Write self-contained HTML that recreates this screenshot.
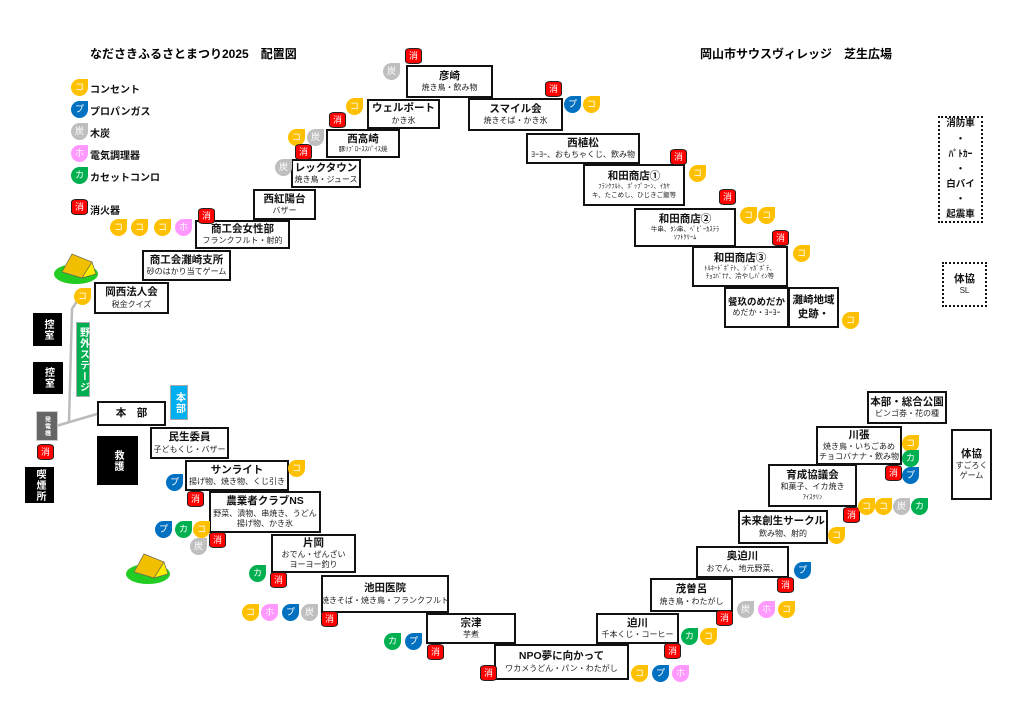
<!DOCTYPE html>
<html><head><meta charset="utf-8"><style>
body{margin:0;width:1024px;height:724px;position:relative;background:#fff;font-family:"Liberation Sans","Noto Sans CJK JP",sans-serif;overflow:hidden}
.b{position:absolute;border:2px solid #111;background:#fff;box-sizing:border-box;text-align:center;display:flex;flex-direction:column;justify-content:center;align-items:center;line-height:1.25}
.b .t{font-size:10.5px;font-weight:bold;color:#111;white-space:nowrap}
.b .s{font-size:8px;color:#222;white-space:nowrap}
.i{position:absolute;width:17px;height:17px;border-radius:50% 0 50% 50%;color:#fff;font-size:9px;text-align:center;line-height:17px}
.co{background:#ffc000}.pr{background:#0070c0}.sm{background:#bfbfbf}.ho{background:#ff99ff}.ka{background:#00b050}
.x{position:absolute;width:17px;height:16px;background:#f00;border:1.5px solid #222;border-radius:5px/3px;box-sizing:border-box;color:#fff;font-size:9px;text-align:center;line-height:14px}
.k{position:absolute;background:#000;color:#fff;font-size:10px;font-weight:bold;writing-mode:vertical-rl;display:flex;align-items:center;justify-content:center;letter-spacing:1px}
.lg{position:absolute;font-size:10px;font-weight:bold;color:#111}
</style></head><body>
<div style="position:absolute;left:90px;top:45px;font-size:12px;font-weight:bold">なださきふるさとまつり2025　配置図</div>
<div style="position:absolute;left:700px;top:45px;font-size:12px;font-weight:bold">岡山市サウスヴィレッジ　芝生広場</div>

<div class="i co" style="left:71px;top:79px">コ</div><div class="lg" style="left:90px;top:81px">コンセント</div>
<div class="i pr" style="left:71px;top:101px">プ</div><div class="lg" style="left:90px;top:103px">プロパンガス</div>
<div class="i sm" style="left:71px;top:123px">炭</div><div class="lg" style="left:90px;top:125px">木炭</div>
<div class="i ho" style="left:71px;top:145px">ホ</div><div class="lg" style="left:90px;top:147px">電気調理器</div>
<div class="i ka" style="left:71px;top:167px">カ</div><div class="lg" style="left:90px;top:169px">カセットコンロ</div>
<div class="x" style="left:71px;top:199px">消</div><div class="lg" style="left:90px;top:202px">消火器</div>

<div class="b" style="left:406px;top:65px;width:87px;height:33px"><div class="t">彦崎</div><div class="s">焼き鳥・飲み物</div></div>
<div class="b" style="left:367px;top:99px;width:73px;height:30px"><div class="t">ウェルポート</div><div class="s">かき氷</div></div>
<div class="b" style="left:468px;top:98px;width:95px;height:33px"><div class="t">スマイル会</div><div class="s">焼きそば・かき氷</div></div>
<div class="b" style="left:326px;top:129px;width:74px;height:29px"><div class="t">西高崎</div><div class="s" style="font-size:6.5px">豚ﾘﾌﾞﾛｰｽｽﾊﾟｲｽ焼</div></div>
<div class="b" style="left:291px;top:159px;width:70px;height:29px"><div class="t">レックタウン</div><div class="s">焼き鳥・ジュース</div></div>
<div class="b" style="left:253px;top:189px;width:63px;height:31px"><div class="t">西紅陽台</div><div class="s">バザー</div></div>
<div class="b" style="left:195px;top:220px;width:95px;height:29px"><div class="t">商工会女性部</div><div class="s">フランクフルト・射的</div></div>
<div class="b" style="left:142px;top:250px;width:89px;height:31px"><div class="t">商工会灘崎支所</div><div class="s">砂のはかり当てゲーム</div></div>
<div class="b" style="left:94px;top:282px;width:75px;height:32px"><div class="t">岡西法人会</div><div class="s">税金クイズ</div></div>

<div class="b" style="left:526px;top:133px;width:114px;height:31px"><div class="t">西植松</div><div class="s">ﾖｰﾖｰ、おもちゃくじ、飲み物</div></div>
<div class="b" style="left:583px;top:164px;width:102px;height:42px"><div class="t">和田商店①</div><div class="s" style="font-size:6.5px">ﾌﾗﾝｸﾌﾙﾄ、ﾎﾟｯﾌﾟｺｰﾝ、ｲｶﾔ<br>キ、たこめし、ひじきご飯等</div></div>
<div class="b" style="left:634px;top:208px;width:102px;height:39px"><div class="t">和田商店②</div><div class="s" style="font-size:6.5px">牛串、ﾀﾝ串、ﾍﾞﾋﾞｰｶｽﾃﾗ<br>ｿﾌﾄｸﾘｰﾑ</div></div>
<div class="b" style="left:692px;top:246px;width:96px;height:41px"><div class="t">和田商店③</div><div class="s" style="font-size:6.5px">ﾄﾙﾈｰﾄﾞﾎﾟﾃﾄ、ｼﾞｬｶﾞﾎﾞﾃ、<br>ﾁｮｺﾊﾞﾅﾅ、冷やしﾊﾟｲﾝ等</div></div>
<div class="b" style="left:724px;top:287px;width:65px;height:41px"><div class="t" style="font-size:9.5px">餐玖のめだか</div><div class="s">めだか・ﾖｰﾖｰ</div></div>
<div class="b" style="left:788px;top:287px;width:51px;height:41px"><div class="t">灘崎地域<br>史跡・</div></div>

<div class="b" style="left:97px;top:401px;width:69px;height:25px"><div class="t">本　部</div></div>
<div class="b" style="left:150px;top:427px;width:79px;height:32px"><div class="t">民生委員</div><div class="s">子どもくじ・バザー</div></div>
<div class="b" style="left:185px;top:460px;width:104px;height:31px"><div class="t">サンライト</div><div class="s">揚げ物、焼き物、くじ引き</div></div>
<div class="b" style="left:209px;top:491px;width:112px;height:42px"><div class="t">農業者クラブNS</div><div class="s">野菜、漬物、串焼き、うどん<br>揚げ物、かき氷</div></div>
<div class="b" style="left:271px;top:534px;width:85px;height:39px"><div class="t">片岡</div><div class="s">おでん・ぜんざい<br>ヨーヨー釣り</div></div>
<div class="b" style="left:321px;top:575px;width:128px;height:38px"><div class="t">池田医院</div><div class="s">焼きそば・焼き鳥・フランクフルト</div></div>
<div class="b" style="left:426px;top:613px;width:90px;height:31px"><div class="t">宗津</div><div class="s">芋煮</div></div>
<div class="b" style="left:494px;top:644px;width:135px;height:36px"><div class="t">NPO夢に向かって</div><div class="s">ワカメうどん・パン・わたがし</div></div>
<div class="b" style="left:596px;top:613px;width:83px;height:31px"><div class="t">迫川</div><div class="s">千本くじ・コーヒー</div></div>
<div class="b" style="left:650px;top:578px;width:83px;height:34px"><div class="t">茂曽呂</div><div class="s">焼き鳥・わたがし</div></div>
<div class="b" style="left:696px;top:546px;width:93px;height:32px"><div class="t">奥迫川</div><div class="s">おでん、地元野菜、</div></div>
<div class="b" style="left:738px;top:510px;width:90px;height:34px"><div class="t">未来創生サークル</div><div class="s">飲み物、射的</div></div>
<div class="b" style="left:768px;top:464px;width:89px;height:43px"><div class="t">育成協議会</div><div class="s">和菓子、イカ焼き<br><span style="font-size:6.5px">ｱｲｽｸﾘﾝ</span></div></div>
<div class="b" style="left:816px;top:426px;width:86px;height:39px"><div class="t">川張</div><div class="s">焼き鳥・いちごあめ<br>チョコバナナ・飲み物</div></div>
<div class="b" style="left:867px;top:391px;width:80px;height:33px"><div class="t">本部・総合公園</div><div class="s">ビンゴ券・花の種</div></div>
<div class="b" style="left:951px;top:429px;width:41px;height:71px"><div class="t">体協</div><div class="s">すごろく<br>ゲーム</div></div>

<div class="b" style="left:938px;top:116px;width:45px;height:107px;border:2px dotted #111;line-height:1.6"><div class="t" style="font-size:9.5px">消防車<br>・<br>ﾊﾟﾄｶｰ<br>・<br>白バイ<br>・<br>起震車</div></div>
<div class="b" style="left:942px;top:262px;width:45px;height:45px;border:2px dotted #111"><div class="t">体協</div><div class="s">SL</div></div>

<svg style="position:absolute;left:0;top:0" width="1024" height="724"><polyline points="79,298 72,309 69,423" fill="none" stroke="#bbb" stroke-width="2.5"/><line x1="56" y1="426" x2="97" y2="414" stroke="#bbb" stroke-width="2.5"/>
<g transform="translate(76,266)"><ellipse cx="0" cy="8" rx="22" ry="10" fill="#22cc22"/><polygon points="-14,6 -4,-12 16,-4 6,12" fill="#f0c000" stroke="#665" stroke-width="0.7"/><polygon points="6,12 16,-4 20,8" fill="#ffee00" stroke="#665" stroke-width="0.7"/></g>
<g transform="translate(148,566)"><ellipse cx="0" cy="8" rx="22" ry="10" fill="#22cc22"/><polygon points="-14,6 -4,-12 16,-4 6,12" fill="#f0c000" stroke="#665" stroke-width="0.7"/><polygon points="6,12 16,-4 20,8" fill="#ffee00" stroke="#665" stroke-width="0.7"/></g>
</svg>
<div class="k" style="left:33px;top:313px;width:29px;height:33px">控室</div>
<div class="k" style="left:33px;top:362px;width:30px;height:32px">控室</div>
<div class="k" style="left:25px;top:467px;width:29px;height:36px">喫煙所</div>
<div class="k" style="left:97px;top:436px;width:41px;height:49px">救護</div>
<div class="k" style="left:76px;top:322px;width:12px;height:73px;background:#00b050;font-size:10px;border:1px solid #aaa">野外ステージ</div>
<div class="k" style="left:170px;top:385px;width:16px;height:33px;background:#00b0f0;border:1px solid #aaa">本部</div>
<div class="k" style="left:36px;top:411px;width:20px;height:28px;background:#666;font-size:6px;border:1px solid #ccc">発電機</div>
<div class="x" style="left:37px;top:444px">消</div>

<div class="i sm" style="left:383px;top:63px">炭</div><div class="x" style="left:405px;top:48px">消</div>
<div class="i co" style="left:346px;top:98px">コ</div>
<div class="x" style="left:329px;top:112px">消</div>
<div class="i co" style="left:288px;top:129px">コ</div><div class="i sm" style="left:307px;top:129px">炭</div>
<div class="x" style="left:295px;top:144px">消</div><div class="i sm" style="left:275px;top:159px">炭</div>
<div class="x" style="left:198px;top:208px">消</div>
<div class="i co" style="left:110px;top:219px">コ</div><div class="i co" style="left:131px;top:219px">コ</div><div class="i co" style="left:154px;top:219px">コ</div><div class="i ho" style="left:175px;top:219px">ホ</div>
<div class="i co" style="left:74px;top:288px">コ</div>
<div class="x" style="left:545px;top:81px">消</div><div class="i pr" style="left:564px;top:96px">プ</div><div class="i co" style="left:583px;top:96px">コ</div>
<div class="x" style="left:670px;top:149px">消</div><div class="i co" style="left:689px;top:165px">コ</div>
<div class="x" style="left:719px;top:189px">消</div><div class="i co" style="left:740px;top:207px">コ</div><div class="i co" style="left:758px;top:207px">コ</div>
<div class="x" style="left:772px;top:230px">消</div><div class="i co" style="left:793px;top:245px">コ</div>
<div class="i co" style="left:842px;top:312px">コ</div>

<div class="i co" style="left:288px;top:460px">コ</div><div class="i pr" style="left:166px;top:474px">プ</div><div class="x" style="left:187px;top:491px">消</div>
<div class="i pr" style="left:155px;top:521px">プ</div><div class="i ka" style="left:175px;top:521px">カ</div><div class="i co" style="left:193px;top:521px">コ</div>
<div class="i sm" style="left:190px;top:538px">炭</div><div class="x" style="left:209px;top:532px">消</div>
<div class="i ka" style="left:249px;top:565px">カ</div><div class="x" style="left:270px;top:572px">消</div>
<div class="i co" style="left:242px;top:604px">コ</div><div class="i ho" style="left:261px;top:604px">ホ</div><div class="i pr" style="left:282px;top:604px">プ</div><div class="i sm" style="left:301px;top:604px">炭</div><div class="x" style="left:321px;top:611px">消</div>
<div class="i ka" style="left:384px;top:633px">カ</div><div class="i pr" style="left:405px;top:633px">プ</div><div class="x" style="left:427px;top:644px">消</div>
<div class="x" style="left:480px;top:665px">消</div>

<div class="i co" style="left:631px;top:665px">コ</div><div class="i pr" style="left:652px;top:665px">プ</div><div class="i ho" style="left:672px;top:665px">ホ</div>
<div class="x" style="left:664px;top:643px">消</div><div class="i ka" style="left:681px;top:628px">カ</div><div class="i co" style="left:700px;top:628px">コ</div>
<div class="x" style="left:716px;top:610px">消</div><div class="i sm" style="left:737px;top:601px">炭</div><div class="i ho" style="left:758px;top:601px">ホ</div><div class="i co" style="left:778px;top:601px">コ</div>
<div class="x" style="left:777px;top:577px">消</div><div class="i pr" style="left:794px;top:562px">プ</div>
<div class="i co" style="left:828px;top:527px">コ</div>
<div class="x" style="left:843px;top:507px">消</div><div class="i co" style="left:858px;top:498px">コ</div><div class="i co" style="left:875px;top:498px">コ</div><div class="i sm" style="left:893px;top:498px">炭</div><div class="i ka" style="left:911px;top:498px">カ</div>
<div class="x" style="left:885px;top:465px">消</div><div class="i co" style="left:902px;top:435px">コ</div><div class="i ka" style="left:902px;top:450px">カ</div><div class="i pr" style="left:902px;top:467px">プ</div>
</body></html>
